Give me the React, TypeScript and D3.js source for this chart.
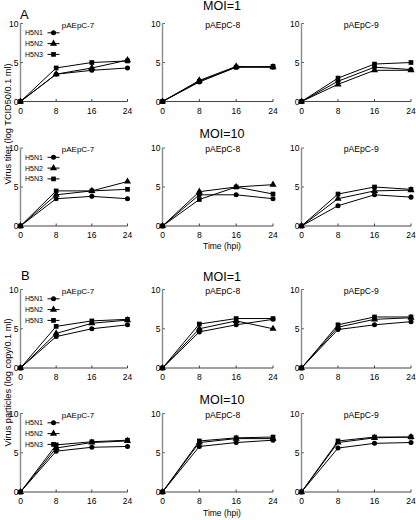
import React from "react";
import * as d3 from "d3";

// ---- data ----
const timePoints = [0, 8, 16, 24];
const xTicks = [0, 8, 16, 24];
const yTicks = [0, 5, 10];
const strains = ["H5N1", "H5N2", "H5N3"];
const cellLines = ["pAEpC-7", "pAEpC-8", "pAEpC-9"];

// Virus titer (log TCID50/0.1 ml), MOI=1 — rows: H5N1, H5N2, H5N3
const titerMoi1P7 = [[0, 3.5, 4.0, 4.3], [0, 3.5, 4.3, 5.3], [0, 4.3, 5.0, 5.2]];
const titerMoi1P8 = [[0, 2.5, 4.4, 4.4], [0, 2.7, 4.5, 4.4], [0, 2.6, 4.4, 4.5]];
const titerMoi1P9 = [[0, 2.6, 4.4, 4.1], [0, 2.2, 4.0, 4.0], [0, 3.0, 4.8, 5.0]];
// MOI=10
const titerMoi10P7 = [[0, 3.5, 3.8, 3.5], [0, 4.0, 4.5, 5.7], [0, 4.5, 4.5, 4.7]];
const titerMoi10P8 = [[0, 4.0, 4.0, 3.5], [0, 4.4, 5.0, 5.3], [0, 3.4, 5.0, 4.1]];
const titerMoi10P9 = [[0, 2.6, 4.0, 3.7], [0, 3.5, 4.5, 4.6], [0, 4.1, 5.0, 4.7]];
// Virus particles (log copy/0.1 ml), MOI=1
const copyMoi1P7 = [[0, 4.0, 5.0, 5.5], [0, 4.4, 5.7, 6.1], [0, 5.3, 6.0, 6.2]];
const copyMoi1P8 = [[0, 4.6, 5.5, 6.2], [0, 5.0, 6.0, 5.0], [0, 5.6, 6.3, 6.3]];
const copyMoi1P9 = [[0, 4.9, 5.5, 5.9], [0, 5.2, 6.2, 6.4], [0, 5.5, 6.5, 6.5]];
// MOI=10
const copyMoi10P7 = [[0, 5.2, 5.7, 5.8], [0, 5.6, 6.3, 6.5], [0, 6.0, 6.4, 6.6]];
const copyMoi10P8 = [[0, 5.8, 6.3, 6.6], [0, 6.3, 6.8, 6.8], [0, 6.5, 6.9, 7.0]];
const copyMoi10P9 = [[0, 5.6, 6.2, 6.3], [0, 6.3, 6.9, 7.0], [0, 6.5, 7.0, 7.0]];

const rowTitles = ["MOI=1", "MOI=10", "MOI=1", "MOI=10"];
const rowData = [
  [titerMoi1P7, titerMoi1P8, titerMoi1P9],
  [titerMoi10P7, titerMoi10P8, titerMoi10P9],
  [copyMoi1P7, copyMoi1P8, copyMoi1P9],
  [copyMoi10P7, copyMoi10P8, copyMoi10P9],
];

// ---- layout ----
const W = 416;
const H = 520;
const FONT = "'Liberation Sans', Arial, Helvetica, sans-serif";
const colX = [
  [20.5, 127.5],
  [162.5, 273],
  [301.5, 411],
];
const rowY = [
  [101.5, 23.5],
  [226, 148],
  [368, 289.5],
  [492, 413.5],
];
const rowTitleY = [10, 138.3, 281, 404.3];
const symbolTypes = [d3.symbolCircle, d3.symbolTriangle, d3.symbolSquare];
const symbolSizes = [20, 22, 22];

function Panel({ row, col }: { row: number; col: number }) {
  const x = d3.scaleLinear().domain([0, 24]).range(colX[col]);
  const y = d3.scaleLinear().domain([0, 10]).range(rowY[row]);
  const data = rowData[row][col];
  const line = d3
    .line<number>()
    .x((_, i) => x(timePoints[i]))
    .y((d) => y(d));
  const [x0, x1] = colX[col];
  const [y0, y10] = rowY[row];
  const titleSize = col === 0 ? 8 : 8.6;
  const titleX = col === 0 ? 78 : (x0 + x1) / 2 + 5;
  return (
    <g>
      {/* axes */}
      <line x1={x0} x2={x0} y1={y0} y2={y10} stroke="#8a8a8a" strokeWidth={1.4} />
      <line x1={x0} x2={x1} y1={y0} y2={y0} stroke="#444" strokeWidth={1.2} />
      {yTicks.map((t) => (
        <g key={"y" + t}>
          <line x1={x0} x2={x0 + 2.5} y1={y(t)} y2={y(t)} stroke="#666" strokeWidth={1} />
          <text x={x0 - 2} y={y(t) + 3} fontSize={8.5} textAnchor="end" fontFamily={FONT}>
            {t}
          </text>
        </g>
      ))}
      {xTicks.map((t) => (
        <g key={"x" + t}>
          <line x1={x(t)} x2={x(t)} y1={y0} y2={y0 - 2.5} stroke="#444" strokeWidth={1} />
          <text x={x(t)} y={y0 + 12} fontSize={8.5} textAnchor="middle" fontFamily={FONT}>
            {t}
          </text>
        </g>
      ))}
      <text x={titleX} y={y10 + 4} fontSize={titleSize} textAnchor="middle" fontFamily={FONT}>
        {cellLines[col]}
      </text>
      {/* series */}
      {data.map((s, si) => (
        <g key={si}>
          <path d={line(s) || ""} fill="none" stroke="#000" strokeWidth={1} />
          {s.map((v, i) => (
            <path
              key={i}
              transform={`translate(${x(timePoints[i])},${y(v)})`}
              d={d3.symbol().type(symbolTypes[si]).size(symbolSizes[si])() || ""}
              fill="#000"
            />
          ))}
        </g>
      ))}
      {/* legend */}
      {col === 0 &&
        strains.map((name, si) => {
          const ly = y10 + 9.3 + si * 10.8;
          return (
            <g key={name}>
              <text x={25} y={ly + 2.5} fontSize={7} fontFamily={FONT}>
                {name}
              </text>
              <line x1={47.5} x2={59.5} y1={ly} y2={ly} stroke="#000" strokeWidth={1} />
              <path
                transform={`translate(53.5,${ly})`}
                d={d3.symbol().type(symbolTypes[si]).size(symbolSizes[si])() || ""}
                fill="#000"
              />
            </g>
          );
        })}
    </g>
  );
}

export default function App() {
  return (
    <div style={{ position: "absolute", left: 0, top: 0 }}>
      <svg width={W} height={H} style={{ display: "block", background: "#fff" }}>
        <rect x={0} y={0} width={W} height={H} fill="#fff" />
        {rowData.map((_, r) => (
          <g key={r}>
            {[0, 1, 2].map((c) => (
              <Panel key={c} row={r} col={c} />
            ))}
            <text
              x={222}
              y={rowTitleY[r]}
              fontSize={12.5}
              textAnchor="middle"
              fontFamily={FONT}
            >
              {rowTitles[r]}
            </text>
          </g>
        ))}
        <text x={20} y={18.5} fontSize={13} fontFamily={FONT}>
          A
        </text>
        <text x={21} y={280} fontSize={13} fontFamily={FONT}>
          B
        </text>
        <text x={222} y={249} fontSize={8.5} textAnchor="middle" fontFamily={FONT}>
          Time (hpi)
        </text>
        <text x={222} y={516} fontSize={8.5} textAnchor="middle" fontFamily={FONT}>
          Time (hpi)
        </text>
        <text
          transform={`translate(10.5,124) rotate(-90)`}
          fontSize={9.2}
          textAnchor="middle"
          fontFamily={FONT}
        >
          Virus titer (log TCID50/0.1 ml)
        </text>
        <text
          transform={`translate(10.5,382.5) rotate(-90)`}
          fontSize={9.2}
          textAnchor="middle"
          fontFamily={FONT}
        >
          Virus particles (log copy/0.1 ml)
        </text>
      </svg>
    </div>
  );
}
